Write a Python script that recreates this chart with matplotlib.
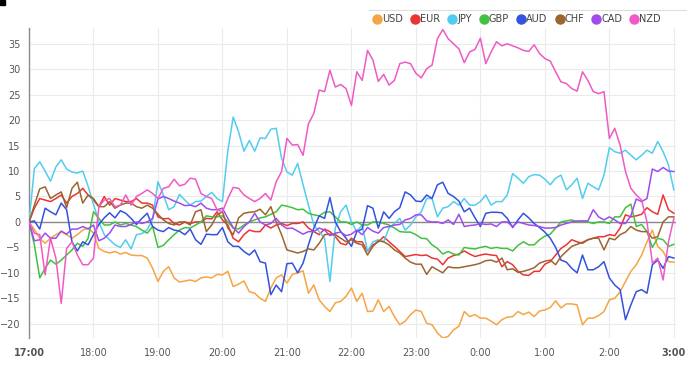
import matplotlib.pyplot as plt
from matplotlib.lines import Line2D
import numpy as np

# 5-minute strength readings, 17:00 -> 3:00
currencies = ['USD', 'EUR', 'JPY', 'GBP', 'AUD', 'CHF', 'CAD', 'NZD']
colors = ['#f6a545', '#ec3434', '#52cdef', '#40c240', '#3352e0', '#9c6530', '#a04cec', '#ef5ac6']

hour_labels = ['17:00', '18:00', '19:00', '20:00', '21:00', '22:00', '23:00',
               '0:00', '1:00', '2:00', '3:00']

usd = [0, -1.5, -3.2, -4.2, -3.2, -2.5, -1.9, -2.5, -3.2, -2.5, -1.6, -1.2, -2.2, -5.2, -5.8, -6.1, -5.8, -6.3, -6, -6.5, -6.6, -6.6, -7.1, -9.1, -11.7,
       -9.7, -8.8, -11, -11.8, -11.6, -11.4, -11.7, -11, -10.8, -11, -10.3, -10.4, -9.7, -12.7, -12.2, -11.6, -13.7, -14, -15, -15.6, -13, -11, -10.4, -12,
       -10.3, -10, -9.6, -14, -12.4, -15.3, -16.6, -17.6, -15.9, -15.6, -14.6, -13, -15.6, -14, -17.6, -17.5, -15.3, -17.6, -16.6, -18.6, -20.2, -19.5, -18.2, -17.3,
       -17.6, -19.9, -20.2, -21.8, -22.8, -22.5, -21.2, -20.5, -17.6, -18.6, -18.2, -18.9, -18.9, -19.5, -20.2, -19.2, -18.7, -18.6, -17.6, -18.2, -17.7, -18.6, -17.5, -17.3,
       -16.8, -15.5, -16.9, -16.1, -16.1, -16.3, -20.2, -18.9, -18.9, -18.4, -17.6, -15.3, -15, -13.7, -11.7, -9.7, -8.4, -6.5, -3.9, -1.6, -4.8, -5.8, -7.8, -7.9]

eur = [0, 2.7, 4.6, 4.3, 4, 4.6, 5.3, 3.7, 5, 5.6, 6.6, 5.3, 4.3, 3, 5, 3.3, 4.6, 4.3, 4, 4, 4.6, 3.7, 3.7, 3.3, 1,
       0.6, 0.7, -0.3, -0.6, 0, -0.3, 0, 0, 0.7, 0.6, 2, 0.4, -0.6, -3.2, -3.9, -2.5, -1.6, -1.9, -1.9, -0.6, -1.2, -0.6, -0.3, -0.7,
       -0.3, -0.3, 0, -1.2, -1.9, -2.5, -1.4, -1.9, -2.9, -4.2, -4.5, -3.2, -3.9, -3.9, -5.8, -4.5, -3.9, -2.9, -3.9, -4.8, -5.8, -6.8, -6.6, -6.4,
       -6.6, -6.5, -7.1, -7.3, -8.4, -7.1, -6.6, -6.3, -5.7, -6.3, -6.8, -6.5, -6.3, -6.5, -6.6, -8.8, -7.8, -8.4, -9.7, -10.4, -10.5, -9.7, -9.7, -8.3,
       -7.8, -6.5, -5.2, -4.5, -3.5, -3.9, -4.2, -3.5, -3.2, -2.9, -2.9, -2.5, -2.7, -1.2, 1.4, 1, 1.2, 1.5, 2.8, 2, 1.5, 5.3, 2.4, 1.7]

jpy = [0, 10.5, 11.8, 10, 8, 10.8, 12.2, 10.4, 9.8, 9.6, 10, 7, 3.5, 0, -2.5, -3.5, -4.5, -5, -3.5, -5.3, -2.5, -2.3, -1.5, 0.5, 7.9,
       5.3, 2.4, 3, 5.4, 4.3, 3.3, 4, 4.1, 5, 5.8, 4.6, 4, 14, 20.6, 17.7, 13.9, 16, 13.9, 16.5, 16.4, 18.2, 18.4, 12.5, 9.8,
       9.2, 11.5, 7.3, 3.3, -0.6, -1.9, -3.2, -11.7, -1.2, 2, 3.3, 0, -1.9, -0.6, -5.8, -3.9, -3.5, -3.9, -1.2, -0.3, 0.7, -1.6, -0.6, 1.0,
       2, 4.6, 4.6, 1, 2.7, 3, 4, 3.3, 4.6, 3.3, 3.3, 4, 5.3, 3.3, 4, 4, 5.3, 9.5, 8.6, 7.6, 8.9, 9.3, 9.2, 8.4,
       7.3, 8.6, 9.2, 6.3, 7.3, 8.6, 4.6, 7.6, 6.9, 6.3, 9.2, 14.6, 13.8, 13.5, 14.1, 13.1, 12.2, 13.1, 14.1, 13.5, 15.8, 13.8, 11.2, 6.3]

gbp = [0, -4.5, -11, -9.1, -7.5, -8.3, -7.5, -6.5, -5.5, -4.2, -4.8, -3.2, 2, 0.7, -0.6, -0.6, 0, -0.6, -0.3, -0.6, -0.9, -1.6, -2.2, -0.9, -5,
       -4.6, -3.5, -2.5, -1.6, -1.1, -1.2, -0.6, 0, 1.2, 1, 1, 1.2, 0, -1.2, -1.4, -0.6, 0, 0.4, 0.8, 1, 1.5, 2, 3.3, 3.1,
       2.8, 2.4, 2.5, 1.7, 1.4, 1.2, 1.9, 2, 1, 0, 0, -0.5, 0, -0.6, -0.6, 0, 0, -0.3, -0.6, -1.2, -1.9, -2, -2, -2.5,
       -3.2, -3.3, -4.5, -5.2, -6.3, -5.8, -6.3, -6.5, -5, -5.2, -5.3, -5, -4.8, -5.2, -5, -5.2, -5.2, -5.7, -4.6, -3.9, -4.5, -4.5, -3.5, -2.8,
       -2.4, -1.2, 0, 0.2, 0.4, 0, 0.2, 0, -0.3, 0, 0, -0.3, 1, 1, 2.8, 3.5, -0.9, -0.5, -1.9, -5, -3.2, -3.5, -4.8, -4.4]

aud = [0, 0.2, -1.4, 2.7, 2, 1.4, 3.7, 2.4, -3.9, -5.7, -3.9, -4.5, -2.5, -0.5, 0.8, 1.8, 0.8, 2.2, 1.7, 0.7, -0.5, 0.7, 1.7, -0.9, -1.6,
       -1.9, -1.1, -1.6, -1.8, -2.5, -1.4, -3.5, -4.4, -2.4, -2.5, -2.5, -1.1, -3.9, -4.8, -4.8, -5.8, -6.5, -5.5, -7.8, -8.1, -14.3, -12.4, -13.7, -8.2,
       -8.1, -10, -8.1, -4.5, -1.2, 1.2, 0.7, 4.8, 0, -1.9, -3.2, -4.8, -1.9, -1.4, 3.2, 2.7, -1.2, 2, 0.7, 2, 2.8, 5.9, 5.3, 4.1,
       4, 5.3, 4.6, 7.3, 7.8, 5.6, 5, 4.1, 2, 2.7, 0.8, -0.9, 1.7, 1.9, 1.9, 1.8, 0.7, -1.1, 0.4, 1.7, 0.8, -0.3, -1.1, -2,
       -3.2, -5, -7.5, -7.9, -9.1, -10, -6.5, -9.4, -9.4, -8.8, -7.8, -11, -12.4, -13.3, -19.2, -16.3, -13.7, -13.3, -14, -8.4, -7.5, -9.1, -6.8, -7.1]

chf = [0, 3.3, 6.5, 6.9, 4.6, 5.3, 5.9, 2.8, 6.6, 7.8, 3.7, 5.3, 4.6, 3, 3, 4, 2.7, 3.3, 3.7, 3.7, 3, 2.7, 3.3, 2.7, 1.5,
       0.4, -0.3, -0.6, 0, 0, -0.6, 2, 2.4, -1.9, -0.6, 1.4, 2, -1.2, -2.5, 0.8, 1.7, 1.9, 2, 2.5, 1.4, 3, 0, -2.5, -5.5,
       -5.8, -6.1, -5.8, -5.3, -5.5, -4.2, -2.5, -2.4, -2.5, -3.2, -3.9, -3.5, -4.2, -4.5, -6.5, -4.8, -3.7, -3.9, -4.5, -5.5, -6.1, -7.1, -7.9, -8.3,
       -8.3, -10.3, -8.8, -9.4, -10, -8.8, -9, -9, -8.8, -8.6, -8.4, -8.1, -7.6, -7.5, -7.9, -7.1, -9.4, -9.2, -9.9, -9.7, -9.4, -9, -8.1, -7.7,
       -7.5, -8.4, -6.8, -5.8, -4.8, -4.4, -4, -3.5, -3.2, -3.2, -5.5, -3.2, -3.5, -2.5, -2, -0.9, -1.6, -1.9, -1.9, -3.2, -2.9, 0, 1, 1]

cad = [0, -3.7, -3.5, -2.2, -3.2, -3.2, -1.8, -2.4, -1.4, -1.4, -0.9, -1.4, -0.6, -3.7, -3.2, -2.2, -0.6, -0.9, -0.9, -0.5, 0, -0.3, 0, 0.7, 4.5,
       5, 4.6, 4.1, 3.7, 3.2, 3.3, 3, 3.7, 2.7, 2.4, 2.4, 2.7, 0.7, -1.1, -2.2, -0.9, 0, 1.7, 0, -0.6, -0.3, 0.7, -0.6, -1.3,
       -1.2, -1.8, -2.4, -1.9, -1.9, -1.2, -1.6, -2.7, -2.2, -2, -2.7, -2.4, -1.6, -2.5, -1.1, -1.8, -2.2, -1.1, -0.9, -0.6, -0.5, 0.4, 0.7, 1.4,
       1.4, 0.2, 0, 0, -0.3, 0.4, -0.5, 1.5, -0.9, -0.7, -0.6, -0.3, -0.5, -0.4, -0.9, 0, 0, -0.9, 0, -0.3, -0.6, -0.7, -0.9, -1.2,
       -1.2, -1.1, -0.6, -0.3, 0, 0.2, 0.2, 0.2, 2.4, 1, 0.4, 1, 0.4, -0.3, -0.3, 1.2, 4.5, 4, 4.6, 10.4, 9.9, 10.7, 10, 9.9]

nzd = [0, -2.2, -2.5, -10.4, -3.2, -7.1, -16, -5.2, -3.9, -6.5, -8.4, -8.4, -7.1, 3, 4.3, 4.6, 3, 3.3, 5.3, 3.3, 5, 5.6, 6.3, 5.6, 4.6,
       6.6, 6.9, 8.4, 7.1, 7.4, 8.6, 8.4, 5.6, 5, 4.6, 2.4, 2, 4.6, 6.8, 6.6, 5.3, 4.6, 4, 4.6, 5.6, 4.3, 7.9, 9.9, 16.4,
       15.1, 15.2, 13.1, 19.3, 21.3, 25.9, 25.6, 29.8, 26.5, 27, 26.2, 22.9, 29.5, 27.8, 33.7, 31.8, 27.6, 29, 26.9, 27.8, 31.1, 31.4, 31.1, 29.2,
       28.3, 30.1, 30.8, 36, 37.8, 36, 35, 34, 31.3, 33.4, 33.9, 36.1, 31.1, 33.4, 35.4, 34.6, 35, 34.6, 34.2, 33.7, 33.5, 34.8, 33.1, 32.1,
       31.6, 29.5, 27.5, 27.2, 26.2, 25.7, 29.5, 27.8, 25.6, 25.2, 25.6, 16.4, 18.4, 15.1, 9.9, 6.6, 5.3, 4.3, 0, -8.1, -7.1, -11.4, -3.9, 0.7]

series = [usd, eur, jpy, gbp, aud, chf, cad, nzd]
for s in series:
    assert len(s) == 121, len(s)

t = np.arange(121)

fig = plt.figure(figsize=(6.96, 3.71), dpi=100)
ax = fig.add_axes([29 / 696, 1 - 338 / 371, 647 / 696, 310 / 371])

for vals, name, c in zip(series, currencies, colors):
    ax.plot(t, vals, color=c, lw=1.1, label=name, zorder=3)

ax.axhline(0, color='#8a8a8a', lw=1.0, zorder=2)

ax.set_xlim(0, 120.4)
ax.set_ylim(-22.8, 38.1)
ax.set_yticks(np.arange(-20, 36, 5))
ax.set_xticks(np.arange(0, 121, 12))
ax.set_xticklabels(hour_labels)
for i, lab in enumerate(ax.get_xticklabels()):
    if i in (0, len(hour_labels) - 1):
        lab.set_fontweight('bold')
        lab.set_color('#222222')

ax.grid(True, color='#ebebeb', lw=0.8, zorder=0)
ax.tick_params(axis='both', length=0, labelsize=7, colors='#555555')
ax.tick_params(axis='x', pad=7)
ax.tick_params(axis='y', pad=6)
for side in ['top', 'right', 'bottom']:
    ax.spines[side].set_visible(False)
ax.spines['left'].set_color('#8a8a8a')
ax.spines['left'].set_linewidth(1.0)

handles = [Line2D([], [], marker='o', linestyle='', markersize=6.5, color=c) for c in colors]
fig.legend(handles, currencies, loc='upper right', bbox_to_anchor=(0.962, 0.985), ncol=8,
           frameon=False, fontsize=7, handletextpad=0.0, columnspacing=0.75,
           handlelength=1.0, labelcolor='#444444')

# little page artefacts
fig.patches.append(plt.Rectangle((0, 1 - 5 / 371), 5 / 696, 5 / 371, transform=fig.transFigure,
                                 color='black', zorder=10))
fig.add_artist(Line2D([0.53, 0.985], [1 - 10 / 371, 1 - 10 / 371], transform=fig.transFigure,
                      color='#dddddd', lw=0.8))

fig.savefig('out.png', dpi=100)
